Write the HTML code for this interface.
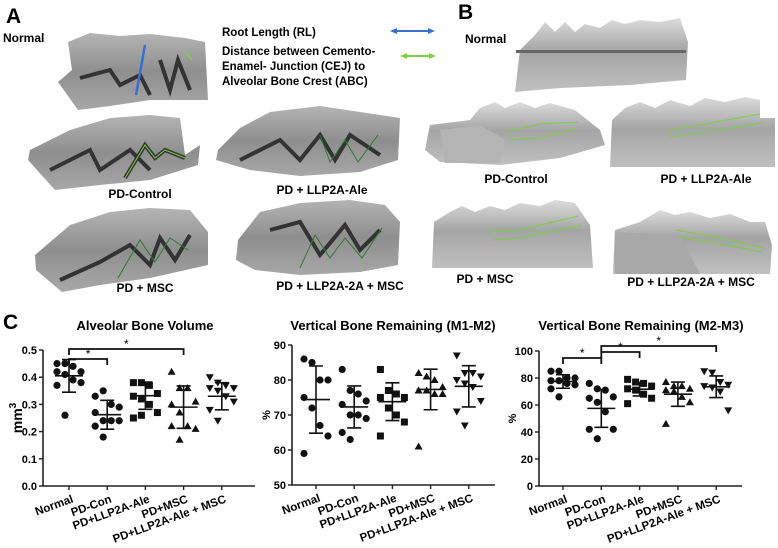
<!DOCTYPE html>
<html><head><meta charset="utf-8">
<style>
body{margin:0;background:#fff;}
svg{display:block;font-family:"Liberation Sans",Arial,sans-serif;}
.b{font-weight:bold;}
</style></head>
<body>
<svg id="fig" width="778" height="548" viewBox="0 0 778 548">
<defs>
<linearGradient id="ct" x1="0" y1="0" x2="0" y2="1">
<stop offset="0" stop-color="#b4b4b4"/><stop offset="0.5" stop-color="#8e8e8e"/><stop offset="1" stop-color="#a8a8a8"/>
</linearGradient>
<linearGradient id="sf" x1="0" y1="0" x2="0" y2="1">
<stop offset="0" stop-color="#dcdcdc"/><stop offset="0.45" stop-color="#a4a4a4"/><stop offset="1" stop-color="#c0c0c0"/>
</linearGradient>
</defs>

<!-- Panel A -->
<text x="6" y="23" font-size="21" class="b">A</text>
<text x="3" y="42" font-size="12" class="b">Normal</text>
<g>
<polygon points="68,42 90,33 120,36 150,34 185,38 205,42 208,100 150,100 110,106 78,110 58,82 72,70" fill="url(#ct)"/>
<path d="M80,78 L110,70 L120,85 L140,75 L150,95 M160,60 L170,90 L178,60 L190,90" stroke="#333" stroke-width="4" fill="none"/>
<line x1="145" y1="45" x2="136" y2="95" stroke="#3a6fd0" stroke-width="2.5"/>
<line x1="185" y1="52" x2="192" y2="60" stroke="#7ad040" stroke-width="1.5"/>
</g>
<g>
<polygon points="30,150 70,130 110,118 150,115 180,118 185,155 200,145 198,165 150,180 100,185 55,190 28,160" fill="url(#ct)"/>
<path d="M50,170 L90,150 L100,170 L130,150 L150,170 M125,178 L145,145 L155,158 L165,150 L185,158" stroke="#333" stroke-width="4" fill="none"/>
<path d="M125,178 L145,145 L155,158 L165,150 L185,158" stroke="#7ad040" stroke-width="1" fill="none"/>
</g>
<g>
<polygon points="218,150 240,128 270,112 320,106 360,112 400,118 398,160 360,172 300,176 250,170 216,160" fill="url(#ct)"/>
<path d="M240,160 L280,140 L300,160 L320,135 L335,160 L350,135 L380,155" stroke="#333" stroke-width="4" fill="none"/>
<path d="M320,135 L330,162 L345,140 L358,162 L378,135" stroke="#2f7a2f" stroke-width="1" fill="none"/>
</g>
<text x="140" y="198" font-size="12" class="b" text-anchor="middle">PD-Control</text>
<text x="322" y="194" font-size="12" class="b" text-anchor="middle">PD + LLP2A-Ale</text>
<g>
<polygon points="35,255 70,225 110,212 150,208 190,210 208,232 208,265 150,278 100,285 62,292 36,270" fill="url(#ct)"/>
<path d="M60,280 L100,262 L130,245 L150,265 L160,238 L175,260 L190,235" stroke="#333" stroke-width="4" fill="none"/>
<path d="M118,278 L140,240 L155,262 L170,238 L188,250" stroke="#2f7a2f" stroke-width="1" fill="none"/>
</g>
<g>
<polygon points="238,240 260,212 300,203 350,200 385,205 400,222 398,265 360,272 300,275 255,270 236,260" fill="url(#ct)"/>
<path d="M270,230 L300,222 L320,255 L345,225 L360,250 L380,230" stroke="#333" stroke-width="4" fill="none"/>
<path d="M300,268 L315,235 L330,258 L345,238 L362,258 L382,228" stroke="#2f7a2f" stroke-width="1" fill="none"/>
</g>
<text x="145" y="292" font-size="12" class="b" text-anchor="middle">PD + MSC</text>
<text x="340" y="290" font-size="12" class="b" text-anchor="middle">PD + LLP2A-2A + MSC</text>

<!-- Legend -->
<g>
<text x="222" y="36" font-size="11.5" class="b">Root Length (RL)</text>
<text x="222" y="55" font-size="11.5" class="b">Distance between Cemento-</text>
<text x="222" y="70" font-size="11.5" class="b">Enamel- Junction (CEJ) to</text>
<text x="222" y="85" font-size="11.5" class="b">Alveolar Bone Crest (ABC)</text>
<line x1="395" y1="31" x2="432" y2="31" stroke="#3a6fd0" stroke-width="2"/>
<polygon points="390,31 397,28 397,34" fill="#3a6fd0"/><polygon points="435,31 428,28 428,34" fill="#3a6fd0"/>
<line x1="405" y1="56" x2="432" y2="56" stroke="#7ad040" stroke-width="2"/>
<polygon points="400,56 407,53 407,59" fill="#7ad040"/><polygon points="436,56 429,53 429,59" fill="#7ad040"/>
</g>

<!-- Panel B -->
<text x="458" y="19" font-size="21" class="b">B</text>
<text x="465" y="43" font-size="12" class="b">Normal</text>
<g>
<polygon points="520,50 535,35 545,22 555,32 565,22 575,32 585,24 600,28 612,20 625,24 640,20 660,22 680,18 688,42 686,80 630,85 560,88 515,92" fill="url(#sf)"/>
<rect x="516" y="50" width="170" height="3" fill="#666"/>
</g>
<g>
<polygon points="430,125 470,120 480,108 495,102 505,108 520,102 535,108 550,103 575,110 600,130 605,145 560,158 500,165 440,162 425,150" fill="url(#sf)"/>
<polygon points="440,130 480,125 505,140 500,163 445,163" fill="#b4b4b4"/>
<path d="M505,132 L540,124 L578,122 M510,140 L540,138 L578,128" stroke="#7ad040" stroke-width="1" fill="none"/>
</g>
<g>
<polygon points="612,120 625,108 640,102 655,108 670,100 690,106 705,98 725,102 745,97 760,100 760,118 775,118 775,167 610,167" fill="url(#sf)"/>
<path d="M668,130 L700,125 L760,114 M668,137 L700,133 L762,123" stroke="#7ad040" stroke-width="1" fill="none"/>
</g>
<text x="516" y="183" font-size="12" class="b" text-anchor="middle">PD-Control</text>
<text x="706" y="183" font-size="12" class="b" text-anchor="middle">PD + LLP2A-Ale</text>
<g>
<polygon points="434,222 450,212 462,206 475,212 490,206 505,210 520,203 540,206 555,200 575,203 590,225 593,268 432,268" fill="url(#sf)"/>
<path d="M488,232 L520,230 L578,216 M492,240 L520,238 L582,225" stroke="#7ad040" stroke-width="1" fill="none"/>
</g>
<g>
<polygon points="615,230 640,222 660,210 675,215 690,212 710,218 730,214 750,222 765,222 772,245 770,274 613,274" fill="url(#sf)"/>
<polygon points="615,232 680,235 700,274 615,274" fill="#a8a8a8"/>
<path d="M676,230 L720,238 L764,248 M680,237 L720,244 L762,252" stroke="#7ad040" stroke-width="1" fill="none"/>
</g>
<text x="485" y="283" font-size="12" class="b" text-anchor="middle">PD + MSC</text>
<text x="691" y="286" font-size="12" class="b" text-anchor="middle">PD + LLP2A-2A + MSC</text>

<!-- Panel C -->
<text x="3" y="329" font-size="21" class="b">C</text>
<g id="charts"></g>
</svg>
<script>
const categories = ["Normal","PD-Con","PD+LLP2A-Ale","PD+MSC","PD+LLP2A-Ale + MSC"];
const markers = ["circle","circle","square","triangle-up","triangle-down"];

const volumeValues = [
 [0.45,0.45,0.44,0.42,0.42,0.41,0.39,0.38,0.37,0.26],
 [0.33,0.35,0.30,0.29,0.27,0.24,0.24,0.24,0.22,0.18],
 [0.38,0.38,0.37,0.34,0.33,0.32,0.30,0.27,0.25,0.26],
 [0.42,0.36,0.36,0.31,0.30,0.27,0.22,0.21,0.22,0.17],
 [0.40,0.38,0.37,0.36,0.36,0.35,0.33,0.31,0.28,0.24]];
const volumeMean = [0.405,0.262,0.332,0.29,0.33];
const volumeSD = [0.06,0.053,0.05,0.078,0.05];
const volumeTicks = [0,0.1,0.2,0.3,0.4,0.5];

const m1m2Values = [
 [86,85,80,80,75,72,67,64,59],
 [83,77,76,74,73,70,70,69,65,63],
 [83,77,76,75,75,72,70,68,64],
 [82,81,80,78,77,77,76,76,61],
 [87,82,82,81,80,79,78,74,71,67]];
const m1m2Mean = [74.4,72.3,73.8,77.3,78.2];
const m1m2SD = [9.6,6,5.4,5.8,5.9];
const m1m2Ticks = [50,60,70,80,90];

const m2m3Values = [
 [85,85,80,80,78,78,76,75,72,66],
 [76,72,71,66,65,62,55,42,42,35],
 [79,77,76,74,72,71,68,65,61],
 [77,74,74,72,71,70,66,62,46],
 [85,84,77,75,74,73,70,56]];
const m2m3Mean = [77.4,57.5,71.7,68,73.5];
const m2m3SD = [5,14,5,9,8];
const m2m3Ticks = [0,20,40,60,80,100];

const NS="http://www.w3.org/2000/svg";
const root=document.getElementById('charts');
function mk(tag,attrs,parent){const e=document.createElementNS(NS,tag);for(const k in attrs)e.setAttribute(k,attrs[k]);(parent||root).appendChild(e);return e;}

function chart(cfg){
 const g=mk('g',{});
 
 
 const y=v=>cfg.y0+(v-cfg.min)/(cfg.max-cfg.min)*(cfg.y1-cfg.y0);
 const x=i=>cfg.cx0+i*cfg.step;
 const t=mk('text',{x:cfg.tx,y:330,'font-size':13,'font-weight':'bold','text-anchor':'middle'},g);t.textContent=cfg.title;
 
 
 const ax=mk('path',{d:`M${cfg.ax},${y(cfg.max)} L${cfg.ax},${cfg.y0} L${cfg.axEnd},${cfg.y0}`,stroke:'#222','stroke-width':1.6,fill:'none'},g);
 
 
 cfg.ticks.forEach(v=>{
  mk('line',{x1:cfg.ax-4,x2:cfg.ax,y1:y(v),y2:y(v),stroke:'#222','stroke-width':1.4},g);
  const l=mk('text',{x:cfg.ax-6,y:y(v)+4,'font-size':11,'font-weight':'bold','text-anchor':'end'},g);
  l.textContent=cfg.fmt(v);
  
  
 });
 const yl=mk('text',{x:0,y:0,'font-size':cfg.ylSize,'font-weight':'bold','text-anchor':'middle',transform:`translate(${cfg.ylx},${(cfg.y0+y(cfg.max))/2}) rotate(-90)`},g);
 yl.innerHTML=cfg.ylab;
 
 
 categories.forEach((c,i)=>{
  mk('line',{x1:x(i),x2:x(i),y1:cfg.y0,y2:cfg.y0+4,stroke:'#222','stroke-width':1.4},g);
  const l=mk('text',{x:0,y:0,'font-size':11.5,'font-weight':'bold','text-anchor':'end',transform:`translate(${x(i)+5},${cfg.y0+16}) rotate(-20)`},g);
  l.textContent=c;
  
  
  const pts=cfg.vals[i];
  pts.forEach((v,j)=>{
   const n=pts.length;const off=((j%4)-1.5)*8*(n>1?1:0);
   const px=x(i)+off, py=y(v);
   let m;
   if(markers[i]==='circle') m=mk('circle',{cx:px,cy:py,r:3.6,fill:'#111'},g);
   else if(markers[i]==='square') m=mk('rect',{x:px-3.5,y:py-3.5,width:7,height:7,fill:'#111'},g);
   else if(markers[i]==='triangle-up') m=mk('polygon',{points:`${px},${py-4} ${px-4},${py+3} ${px+4},${py+3}`,fill:'#111'},g);
   else m=mk('polygon',{points:`${px},${py+4} ${px-4},${py-3} ${px+4},${py-3}`,fill:'#111'},g);
   
   
  });
  const mu=cfg.mean[i], sd=cfg.sd[i];
  const eb=mk('path',{d:`M${x(i)-14},${y(mu)} L${x(i)+14},${y(mu)} M${x(i)},${y(mu-sd)} L${x(i)},${y(mu+sd)} M${x(i)-7},${y(mu-sd)} L${x(i)+7},${y(mu-sd)} M${x(i)-7},${y(mu+sd)} L${x(i)+7},${y(mu+sd)}`,stroke:'#111','stroke-width':1.6,fill:'none'},g);
  
  
 });
 (cfg.sig||[]).forEach(s=>{
  const [a,b,yy]=s;
  const br=mk('path',{d:`M${x(a)},${yy+6} L${x(a)},${yy} L${x(b)},${yy} L${x(b)},${yy+6}`,stroke:'#111','stroke-width':1.8,fill:'none'},g);
  
  
  const st=mk('text',{x:(x(a)+x(b))/2,y:yy-1,'font-size':12,'text-anchor':'middle'},g);
  st.textContent='*';
  
  
 });
}

chart({name:'chart-alveolar-bone-volume',title:'Alveolar Bone Volume',tx:145,ax:43,axEnd:255,y0:486,y1:350,min:0,max:0.5,ticks:volumeTicks,fmt:v=>v.toFixed(1),
 cx0:69,step:38.2,vals:volumeValues,mean:volumeMean,sd:volumeSD,ylab:'mm<tspan dy="-6" font-size="10">3</tspan>',ylx:22,ylSize:14,
 sig:[[0,1,359],[0,3,349]]});
chart({name:'chart-vertical-bone-m1-m2',title:'Vertical  Bone Remaining (M1-M2)',tx:393,ax:292,axEnd:495,y0:485,y1:345,min:50,max:90,ticks:m1m2Ticks,fmt:v=>v,
 cx0:316,step:38.2,vals:m1m2Values,mean:m1m2Mean,sd:m1m2SD,ylab:'%',ylx:270,ylSize:11});
chart({name:'chart-vertical-bone-m2-m3',title:'Vertical  Bone Remaining (M2-M3)',tx:641,ax:539,axEnd:742,y0:486,y1:351,min:0,max:100,ticks:m2m3Ticks,fmt:v=>v,
 cx0:563,step:38.3,vals:m2m3Values,mean:m2m3Mean,sd:m2m3SD,ylab:'%',ylx:516,ylSize:11,
 sig:[[0,1,358],[1,2,352],[1,4,346]]});
</script>
</body></html>
